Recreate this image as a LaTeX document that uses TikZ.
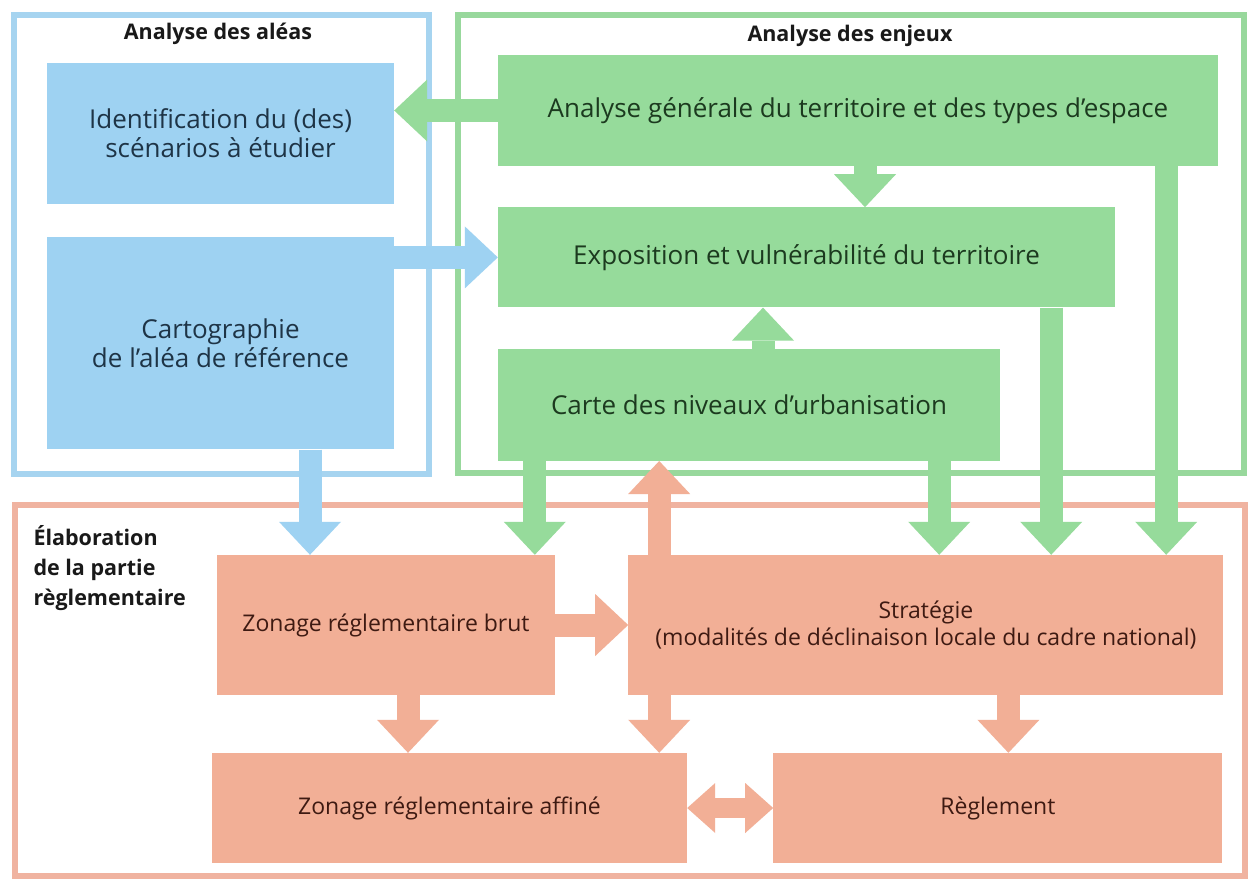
\documentclass[tikz,border=0pt]{standalone}
\usepackage{fontspec}
\setmainfont{Open Sans}
\usepackage{tikz}
\usetikzlibrary{positioning,arrows.meta}

\definecolor{bfill}{HTML}{9ED2F2}
\definecolor{gfill}{HTML}{96DB9B}
\definecolor{sfill}{HTML}{F2AF96}
\definecolor{bline}{HTML}{A6D4F0}
\definecolor{gline}{HTML}{98D89C}
\definecolor{sline}{HTML}{F0B3A0}
\definecolor{btext}{HTML}{1E3446}
\definecolor{gtext}{HTML}{1C3A1F}
\definecolor{stext}{HTML}{3E1A12}

\begin{document}
\begin{tikzpicture}[
    x=1pt, y=-1pt,
    box/.style={rectangle, inner sep=0pt, align=center, font=\fontsize{26}{29}\selectfont},
    bbox/.style={box, fill=bfill, text=btext},
    gbox/.style={box, fill=gfill, text=gtext},
    sbox/.style={box, fill=sfill, text=stext, font=\fontsize{23}{27}\selectfont},
    title/.style={font=\bfseries\fontsize{21.5}{30}\selectfont, text=black!90},
    frame/.style={line width=6pt},
    arrow/.style={line width=23pt, -{Triangle[width=62pt, length=33pt, line width=0pt]}},
    barrow/.style={arrow, draw=bfill},
    garrow/.style={arrow, draw=gfill},
    sarrow/.style={arrow, draw=sfill}
]
    \fill[white] (0,0) rectangle (1252,881);
    \useasboundingbox (0,0) rectangle (1252,881);

    % cadres
    \draw[frame, draw=bline] (13.5,15) rectangle (428.5,474);
    \draw[frame, draw=gline] (457.5,15) rectangle (1244,473);
    \draw[frame, draw=sline] (14.5,505) rectangle (1245,876);
    \node[title] (t1) at (218,34) {Analyse des aléas};
    \node[title] (t2) at (850,36) {Analyse des enjeux};
    \node[title, align=left, anchor=north west] (t3) at (30,522) {Élaboration\\de la partie\\règlementaire};

    % aléas
    \node[bbox, minimum width=347pt, minimum height=141pt] (n1) at (220.5,133.5) {Identification du (des)\\scénarios à étudier};
    \node[bbox, minimum width=347pt, minimum height=212pt, below=33pt of n1] (n2) {Cartographie\\de l'aléa de référence};

    % enjeux
    \node[gbox, minimum width=720pt, minimum height=111pt] (n3) at (858,110.5) {Analyse générale du territoire et des types d'espace};
    \node[gbox, minimum width=617pt, minimum height=100pt, below=41pt of n3.south west, anchor=north west] (n4) {Exposition et vulnérabilité du territoire};
    \node[gbox, minimum width=502pt, minimum height=112pt, below=41pt of n4.south west, anchor=north west] (n5) {Carte des niveaux d'urbanisation};

    % partie réglementaire
    \node[sbox, minimum width=338pt, minimum height=140pt] (n6) at (386,625) {Zonage réglementaire brut};
    \node[sbox, minimum width=595pt, minimum height=140pt, right=73pt of n6] (n7) {Stratégie\\(modalités de déclinaison locale du cadre national)};
    \node[sbox, minimum width=475pt, minimum height=110pt] (n8) at (449.5,808) {Zonage réglementaire affiné};
    \node[sbox, minimum width=449pt, minimum height=110pt, right=86pt of n8] (n9) {Règlement};

    \coordinate (p2) at ([xshift=7pt]n3.south);
    \coordinate (p4) at ([xshift=89.5pt]n2.south);
    \coordinate (p5) at ([xshift=14pt]n5.north);
    \coordinate (p6) at ([xshift=37pt]n5.south west);
    \coordinate (p7) at ([xshift=-61pt]n5.south east);
    \coordinate (p8) at ([xshift=-64pt]n4.south east);
    \coordinate (p9) at ([xshift=-52pt]n3.south east);
    \coordinate (p10) at ([xshift=31pt]n7.north west);
    \coordinate (p12) at ([xshift=22pt]n6.south);
    \coordinate (p13) at ([xshift=31pt]n7.south west);
    \coordinate (p14) at ([xshift=10.5pt]n9.north);

    \draw[garrow] (n3.west) -- (n3.west -| n1.east);
    \draw[garrow] (p2) -- (p2 |- n4.north);
    \draw[barrow] (n4.west -| n2.east) -- (n4.west);
    \draw[barrow] (p4) -- (p4 |- n6.north);
    \draw[garrow] (p5) -- (p5 |- n4.south);
    \draw[garrow] (p6) -- (p6 |- n6.north);
    \draw[garrow] (p7) -- (p7 |- n7.north);
    \draw[garrow] (p8) -- (p8 |- n7.north);
    \draw[garrow] (p9) -- (p9 |- n7.north);
    \draw[sarrow] (p10) -- (p10 |- n5.south);
    \draw[sarrow] (n6.east) -- (n7.west);
    \draw[sarrow] (p12) -- (p12 |- n8.north);
    \draw[sarrow] (p13) -- (p13 |- n8.north);
    \draw[sarrow] (n7.south -| p14) -- (p14);
    \draw[sarrow, line width=20pt, {Triangle[width=50pt, length=28pt, line width=0pt]}-{Triangle[width=50pt, length=28pt, line width=0pt]}] (n8.east) -- (n9.west);
\end{tikzpicture}
\end{document}
